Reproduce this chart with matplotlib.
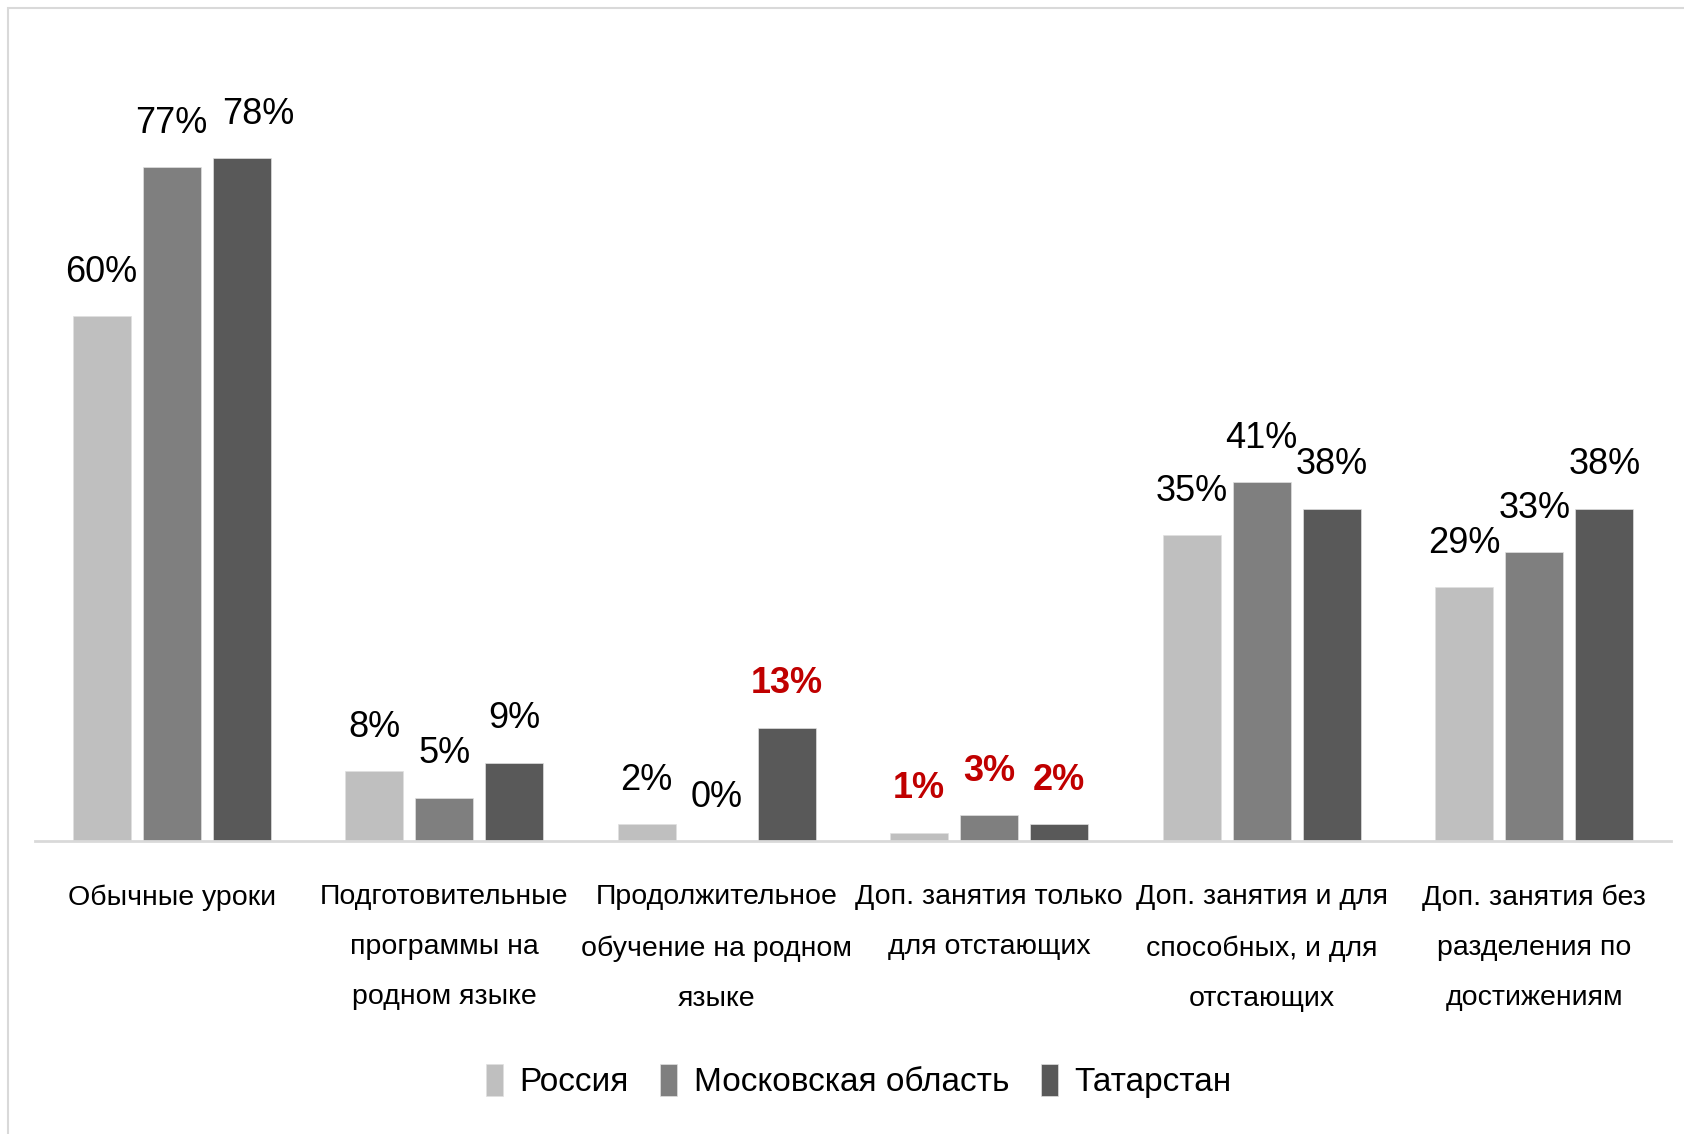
import matplotlib.pyplot as plt
import numpy as np
from matplotlib.patches import Rectangle

plt.rcParams['font.family'] = ['Liberation Sans', 'DejaVu Sans']

categories = [
    'Обычные уроки',
    'Подготовительные\nпрограммы на\nродном языке',
    'Продолжительное\nобучение на родном\nязыке',
    'Доп. занятия только\nдля отстающих',
    'Доп. занятия и для\nспособных, и для\nотстающих',
    'Доп. занятия без\nразделения по\nдостижениям',
]
series_names = ['Россия', 'Московская область', 'Татарстан']
russia = [60, 8, 2, 1, 35, 29]
moscow = [77, 5, 0, 3, 41, 33]
tatarstan = [78, 9, 13, 2, 38, 38]
# подписи, выделенные красным (индекс серии, индекс категории)
red_labels = [(2, 2), (0, 3), (1, 3), (2, 3)]

colors = ['#BFBFBF', '#7F7F7F', '#595959']

fig = plt.figure(figsize=(16.84, 11.34), dpi=100)
ax = fig.add_axes([0.021, 0.258, 0.971, 0.695])

# рамка вокруг диаграммы
fig.patches.append(Rectangle((0.005, -0.1), 1.2, 1.093, transform=fig.transFigure,
                             fill=False, edgecolor='#D9D9D9', linewidth=1.5))

x = np.arange(len(categories))
pitch = 0.257
width = 0.213
all_values = [russia, moscow, tatarstan]

for i, (name, values) in enumerate(zip(series_names, all_values)):
    pos = x + (i - 1) * pitch
    bars = ax.bar(pos, values, width, color=colors[i], label=name,
                  edgecolor='#E0E0E0', linewidth=0.5)
    for j, (bar, v) in enumerate(zip(bars, values)):
        is_red = (i, j) in red_labels
        dx = 12 if (i, j) == (2, 0) else 0  # Excel сдвинул подпись, чтобы не налезала
        ax.annotate(f'{v}%', (bar.get_x() + bar.get_width() / 2, v),
                    xytext=(dx, 19), textcoords='offset points',
                    ha='center', va='bottom', fontsize=26,
                    color='#C00000' if is_red else 'black',
                    fontweight='bold' if is_red else 'normal')

ax.set_xlim(-0.5, 5.5)
ax.set_ylim(0, 90)
for s in ['top', 'right', 'left']:
    ax.spines[s].set_visible(False)
ax.spines['bottom'].set_color('#D9D9D9')
ax.spines['bottom'].set_linewidth(2)
ax.set_yticks([])
ax.set_xticks(x)
ax.set_xticklabels(categories, fontsize=20.5, linespacing=2.2, va='top')
ax.tick_params(axis='x', length=0, pad=31)

leg = fig.legend(loc='center', bbox_to_anchor=(0.51, 0.047), ncol=3, frameon=False,
                 fontsize=24, handlelength=0.5, handleheight=1.1,
                 handletextpad=0.5, columnspacing=0.95)

fig.savefig('out.png', dpi=100)
